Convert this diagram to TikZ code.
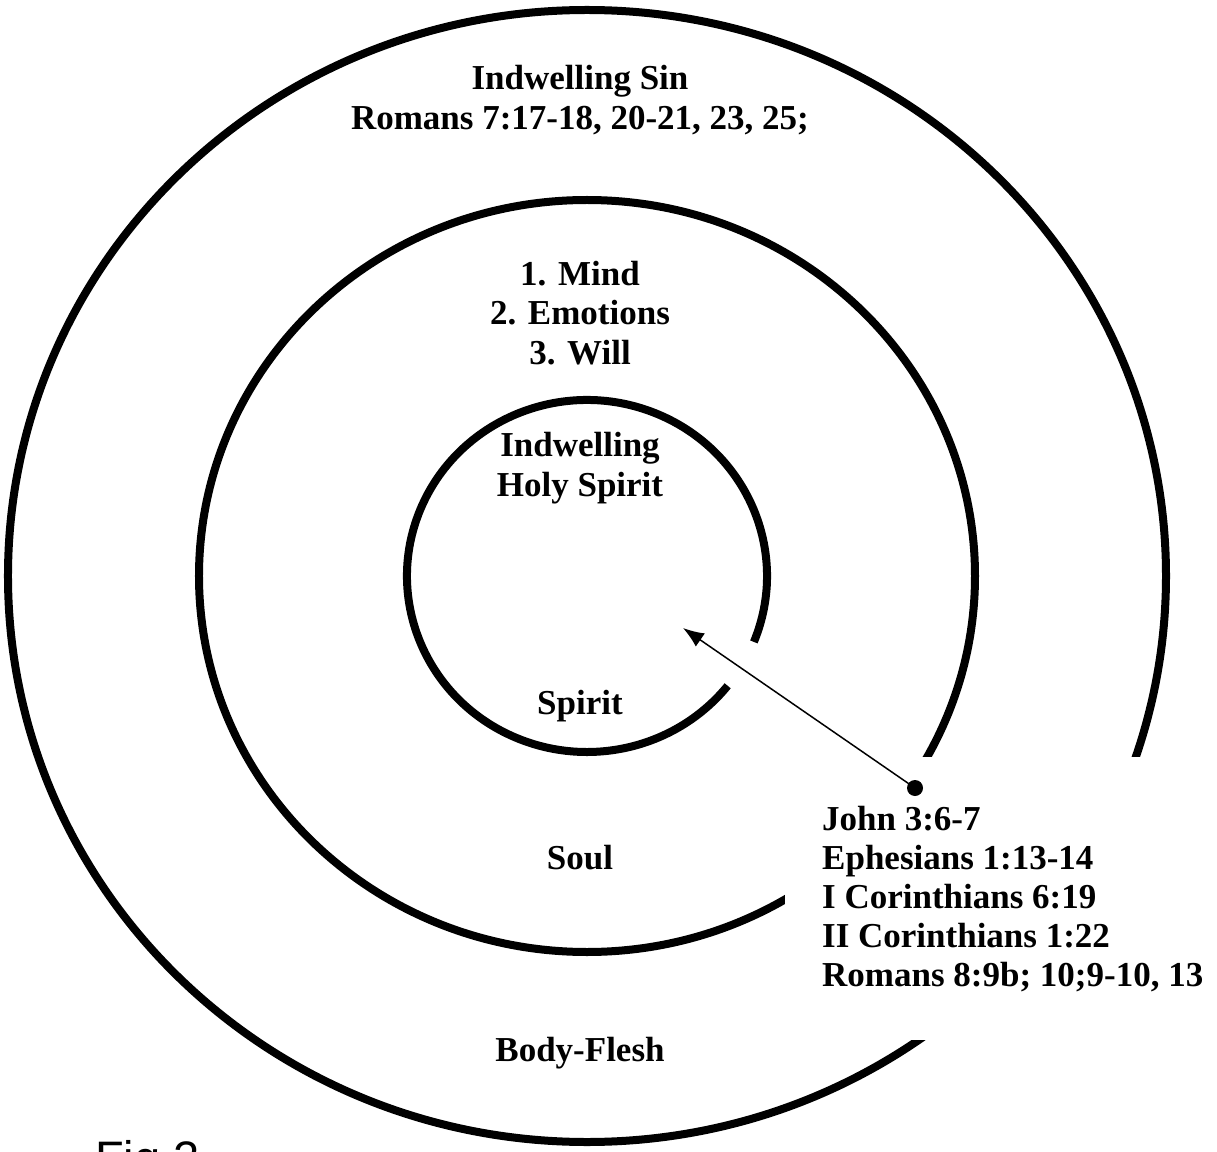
\documentclass[tikz,border=0pt]{standalone}
\usepackage{fontspec}
\setmainfont{Liberation Serif}
\setsansfont{Liberation Sans}
\usetikzlibrary{arrows.meta}

\tikzset{
  ring/.style={line width=8pt},
  lbl/.style={font=\bfseries\fontsize{35}{39.5}\selectfont, align=center, inner sep=0pt},
  refbox/.style={font=\bfseries\fontsize{35}{39}\selectfont, align=left, fill=white,
    inner xsep=37pt, inner ysep=0pt, minimum height=283pt, anchor=north west},
  dot/.style={circle, fill=black, inner sep=0pt, minimum size=16pt},
}

\begin{document}
\begin{tikzpicture}[x=1pt,y=1pt]
                \useasboundingbox (-587,-575) rectangle (630,576);
                
                \coordinate (c) at (0,0);
                \draw[ring] (c) ellipse [x radius=579, y radius=566]; % body
                \draw[ring] (c) ellipse [x radius=388, y radius=376]; % soul
                \draw[ring] ([shift={(-22:180 and 176)}]c) arc [start angle=-22, end angle=321.4, x radius=180, y radius=176]; % spirit
                
                \node[lbl] (sin)    at (-7,476)  {Indwelling Sin\\Romans 7:17-18, 20-21, 23, 25;};
                \node[lbl] (mind)   at (-7,263)  {1. Mind\\2. Emotions\\3. Will};
                \node[lbl] (holy)   at (-7,108)  {Indwelling\\Holy Spirit};
                \node[lbl] (spirit) at (-7,-130) {Spirit};
                \node[lbl] (soul)   at (-7,-282) {Soul};
                \node[lbl] (flesh)  at (-7,-477) {Body-Flesh};
                
                \node[refbox] (refs) at (198,-181) {John 3:6-7\\Ephesians 1:13-14\\I Corinthians 6:19\\II Corinthians 1:22\\Romans 8:9b; 10;9-10, 13};
                \node[dot] (pin) at (328,-212) {};
                \coordinate (tip) at (96,-52);
                \draw[-{Latex[length=21pt,width=16pt]}, line width=1.5pt] (pin.center) -- (tip); %
                
                \node[font=\sffamily\fontsize{47}{47}\selectfont, anchor=base west, inner sep=0pt] (fig) at (-492,-598) {Fig 2};
                
\end{tikzpicture}
\end{document}
